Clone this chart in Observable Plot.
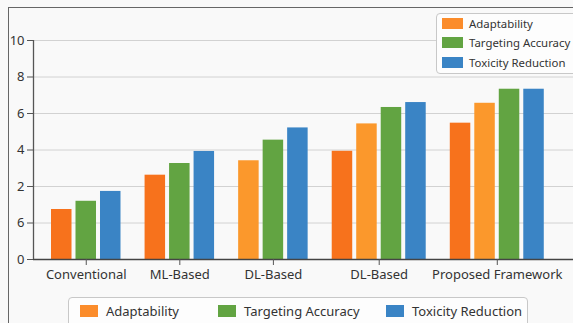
<!DOCTYPE html>
<html>
<head>
<meta charset="utf-8">
<script src="https://cdn.jsdelivr.net/npm/d3@7"></script>
<script src="https://cdn.jsdelivr.net/npm/@observablehq/plot@0.6"></script>
<style>
  html, body { margin: 0; padding: 0; background: #f9f9f9; overflow: hidden; }
  body { width: 573px; height: 323px; font-family: "Noto Sans", sans-serif; color: #333; }
  #wrap { position: relative; width: 573px; height: 323px; }
  #frame { position: absolute; left: 8px; top: 7px; width: 700px; height: 400px;
           border-left: 1.5px solid #666; border-top: 1.5px solid #666; box-sizing: border-box; }
  #chart { position: absolute; left: 0; top: 0; }
  .legend { position: absolute; background: #fdfdfd; border: 1px solid #c8c8c8; border-radius: 4px;
            font-size: 11.4px; color: #333; box-sizing: border-box; }
  .legend .item { position: absolute; display: flex; align-items: center; white-space: nowrap; }
  .legend .sw { display: inline-block; }
  #legendTop { left: 436px; top: 13px; width: 160px; height: 61px; }
  #legendBottom { left: 68px; top: 297px; width: 460px; height: 40px; font-size: 13px; }
</style>
</head>
<body>
<div id="wrap">
  <div id="chart"></div>
  <div id="frame"></div>
  <div id="legendTop" class="legend"></div>
  <div id="legendBottom" class="legend"></div>
</div>
<script>
// Method groups along the x axis
const groups = ["Conventional", "ML-Based", "DL-Based", "DL-Based", "Proposed Framework"];

// Scores per group (null = bar not present in that group)
const adaptability      = [2.74, 4.62, null, 5.93, 7.47];
const adaptabilityAlt   = [null, null, 5.41, 7.43, 8.56];
const targetingAccuracy = [3.19, 5.26, 6.54, 8.33, 9.33];
const toxicityReduction = [3.73, 5.92, 7.21, 8.60, 9.33];

// Y axis ticks and the labels printed beside them
const yTickValues = [0, 2, 4, 6, 8, 10, 12];
const yTickLabels = ["0", "6", "2", "4", "6", "8", "10"];

// Legend entries
const legendNames = ["Adaptability", "Targeting Accuracy", "Toxicity Reduction"];

// Styling
const series = [
  {key: "adaptability", values: adaptability, color: "#f7721c"},
  {key: "adaptabilityAlt", values: adaptabilityAlt, color: "#fb982c"},
  {key: "targeting", values: targetingAccuracy, color: "#62a442"},
  {key: "toxicity", values: toxicityReduction, color: "#3a84c5"}
];
const legendColors = ["#fb8c2b", "#62a442", "#3a84c5"];

// Bar slot layout (in slot units): each bar takes one slot, groups separated by a gap
const BAR = 0.837;
const GAP = 0.82;
const bars = [];
const centers = [];
let slot = 0;
groups.forEach((g, i) => {
  const start = slot;
  series.forEach(s => {
    const v = s.values[i];
    if (v == null) return;
    bars.push({x1: slot, x2: slot + BAR, value: v, series: s.key});
    slot += 1;
  });
  centers.push((start + slot - 1 + BAR) / 2);
  slot += GAP;
});
const labelByCenter = new Map(centers.map((c, i) => [c, groups[i]]));

const xMin = -0.735, xMax = 21.31;

const chart = Plot.plot({
  width: 573,
  height: 323,
  marginLeft: 33,
  marginRight: 0,
  marginTop: 40,
  marginBottom: 64,
  style: {background: "transparent", fontFamily: "Noto Sans, sans-serif", fontSize: "13px", color: "#333"},
  x: {domain: [xMin, xMax], axis: null},
  y: {domain: [0, 12], axis: null},
  color: {domain: series.map(s => s.key), range: series.map(s => s.color)},
  marks: [
    Plot.gridY(yTickValues, {stroke: "#d2d2d2", strokeOpacity: 1, strokeWidth: 1}),
    Plot.rectY(bars, {x1: "x1", x2: "x2", y: "value", fill: "series"}),
    Plot.ruleY([0], {stroke: "#444", strokeWidth: 1.3}),
    Plot.ruleX([xMin], {y1: 0, y2: 12, stroke: "#555", strokeWidth: 1.3}),
    Plot.axisY({
      ticks: yTickValues,
      tickFormat: d => yTickLabels[yTickValues.indexOf(d)],
      tickSize: 6, tickPadding: 3, label: null, fontSize: 13, stroke: "#555"
    }),
    Plot.axisX({
      ticks: centers,
      tickFormat: d => labelByCenter.get(d),
      tickSize: 6, tickPadding: 4, label: null, fontSize: 13, stroke: "#555"
    })
  ]
});
document.getElementById("chart").appendChild(chart);

// Legends
function addItems(el, items) {
  items.forEach(it => {
    const d = document.createElement("div");
    d.className = "item";
    d.style.left = it.left + "px";
    d.style.top = it.top + "px";
    d.style.height = it.h + "px";
    const sw = document.createElement("span");
    sw.className = "sw";
    sw.style.width = it.sw + "px";
    sw.style.height = it.sh + "px";
    sw.style.background = it.color;
    sw.style.marginRight = it.gap + "px";
    d.appendChild(sw);
    const t = document.createElement("span");
    t.textContent = it.name;
    d.appendChild(t);
    el.appendChild(d);
  });
}
const legendTopEl = document.getElementById("legendTop");
addItems(legendTopEl, legendNames.map((n, i) => ({
  name: n, color: legendColors[i], left: 5, top: 0 + i * 19.5, h: 18, sw: 21, sh: 11, gap: 6
})));
const legendBottomEl = document.getElementById("legendBottom");
const bottomLefts = [11, 149, 317];
addItems(legendBottomEl, legendNames.map((n, i) => ({
  name: n, color: legendColors[i], left: bottomLefts[i], top: 3, h: 20, sw: 18, sh: 12, gap: 8
})));
</script>
</body>
</html>
